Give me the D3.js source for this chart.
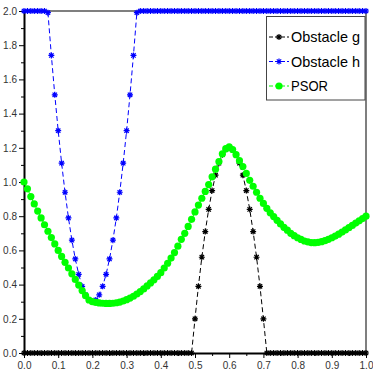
<!DOCTYPE html>
<html>
<head>
<meta charset="utf-8">
<script src="https://cdn.jsdelivr.net/npm/d3@7"></script>
<style>
  body { margin: 0; background: #fff; }
  svg { display: block; }
  .tick text { font-family: "Liberation Sans", Arial, sans-serif; font-size: 10px; fill: #333; }
</style>
</head>
<body>
<div id="chart"></div>
<script>
// mesh points, 0..1 step 0.01
const xs = d3.range(0, 101).map(i => i / 100);

const obstacleG = [
  0, 0, 0, 0, 0, 0, 0, 0, 0, 0,
  0, 0, 0, 0, 0, 0, 0, 0, 0, 0,
  0, 0, 0, 0, 0, 0, 0, 0, 0, 0,
  0, 0, 0, 0, 0, 0, 0, 0, 0, 0,
  0, 0, 0, 0, 0, 0, 0, 0, 0, 0,
  0.20, 0.39, 0.56, 0.71, 0.84, 0.95, 1.04, 1.11, 1.16, 1.19,
  1.20, 1.19, 1.16, 1.11, 1.04, 0.95, 0.84, 0.71, 0.56, 0.39,
  0.20,
  0, 0, 0, 0, 0, 0, 0, 0, 0, 0,
  0, 0, 0, 0, 0, 0, 0, 0, 0, 0,
  0, 0, 0, 0, 0, 0, 0, 0, 0, 0
];

const obstacleH = [
  2, 2, 2, 2, 2, 2, 2,
  1.99, 1.74, 1.51, 1.30, 1.11, 0.94, 0.79, 0.66, 0.55, 0.46, 0.39, 0.34, 0.31,
  0.30,
  0.31, 0.34, 0.39, 0.46, 0.55, 0.66, 0.79, 0.94, 1.11, 1.30, 1.51, 1.74, 1.99,
  2, 2, 2, 2, 2, 2, 2, 2, 2, 2,
  2, 2, 2, 2, 2, 2, 2, 2, 2, 2,
  2, 2, 2, 2, 2, 2, 2, 2, 2, 2,
  2, 2, 2, 2, 2, 2, 2, 2, 2, 2,
  2, 2, 2, 2, 2, 2, 2, 2, 2, 2,
  2, 2, 2, 2, 2, 2, 2, 2, 2, 2,
  2, 2, 2, 2, 2, 2, 2
];

const psor = [
  1.00, 0.96, 0.915, 0.872, 0.83, 0.79, 0.75, 0.712, 0.675, 0.638,
  0.60, 0.565, 0.53, 0.497, 0.463, 0.43, 0.397, 0.365, 0.335, 0.31,
  0.30, 0.296, 0.293, 0.291, 0.29, 0.29, 0.291, 0.294, 0.298, 0.304,
  0.312, 0.321, 0.332, 0.345, 0.359, 0.375, 0.392, 0.41, 0.428, 0.448,
  0.47, 0.497, 0.525, 0.555, 0.587, 0.625, 0.665, 0.70, 0.74, 0.782,
  0.825, 0.865, 0.905, 0.945, 0.985, 1.03, 1.075, 1.12, 1.165, 1.195,
  1.205, 1.19, 1.16, 1.125, 1.09, 1.05, 1.01, 0.975, 0.94, 0.905,
  0.875, 0.846, 0.82, 0.798, 0.776, 0.755, 0.735, 0.718, 0.70, 0.686,
  0.674, 0.664, 0.655, 0.65, 0.646, 0.645, 0.647, 0.651, 0.657, 0.665,
  0.674, 0.684, 0.695, 0.707, 0.72, 0.733, 0.746, 0.76, 0.773, 0.786,
  0.80
];

const xMajor = [0, 0.1, 0.2, 0.3, 0.4, 0.5, 0.6, 0.7, 0.8, 0.9, 1.0];
const xMinor = [0.05, 0.15, 0.25, 0.35, 0.45, 0.55, 0.65, 0.75, 0.85, 0.95];
const yMajor = [0, 0.2, 0.4, 0.6, 0.8, 1.0, 1.2, 1.4, 1.6, 1.8, 2.0];
const yMinor = [0.1, 0.3, 0.5, 0.7, 0.9, 1.1, 1.3, 1.5, 1.7, 1.9];

const series = [
  { name: 'Obstacle g', values: obstacleG, color: '#000000', mark: 'star' },
  { name: 'Obstacle h', values: obstacleH, color: '#0000ff', mark: 'star' },
  { name: 'PSOR', values: psor, color: '#00ff00', mark: 'dot' }
];

const width = 373, height = 373;
const margin = { top: 11, right: 7, bottom: 20, left: 24 };

const x = d3.scaleLinear().domain([0, 1]).range([margin.left, width - margin.right]);
const y = d3.scaleLinear().domain([0, 2]).range([height - margin.bottom, margin.top]);

const svg = d3.select('#chart')
  .append('svg')
  .attr('width', width)
  .attr('height', height);

// frame top / right
svg.append('path')
  .attr('fill', 'none')
  .attr('stroke', '#555')
  .attr('stroke-width', 1.5)
  .attr('d', `M${x(0)},${y(2)}H${x(1)}V${y(0)}`);

// minor ticks
svg.append('g')
  .attr('transform', `translate(0,${y(0)})`)
  .call(d3.axisBottom(x).tickValues(xMinor).tickSize(3).tickFormat('').tickSizeOuter(0))
  .call(g => g.select('.domain').remove());
svg.append('g')
  .attr('transform', `translate(${x(0)},0)`)
  .call(d3.axisLeft(y).tickValues(yMinor).tickSize(3).tickFormat('').tickSizeOuter(0))
  .call(g => g.select('.domain').remove());

// major axes
svg.append('g')
  .attr('transform', `translate(0,${y(0)})`)
  .call(d3.axisBottom(x).tickValues(xMajor).tickFormat(d3.format('.1f')).tickSize(5).tickSizeOuter(0).tickPadding(4))
  .call(g => g.select('.domain').attr('stroke-width', 2));
svg.append('g')
  .attr('transform', `translate(${x(0)},0)`)
  .call(d3.axisLeft(y).tickValues(yMajor).tickFormat(d3.format('.1f')).tickSize(5).tickSizeOuter(0).tickPadding(2))
  .call(g => g.select('.domain').attr('stroke-width', 2));

const star = 'M-3,0H3M0,-3V3M-2.2,-2.2L2.2,2.2M-2.2,2.2L2.2,-2.2';

const line = d3.line()
  .x((d, i) => x(xs[i]))
  .y(d => y(d));

const plot = svg.append('g');

series.forEach(s => {
  plot.append('path')
    .attr('fill', 'none')
    .attr('stroke', s.color)
    .attr('stroke-width', 1)
    .attr('stroke-dasharray', '5,3')
    .attr('d', line(s.values));

  if (s.mark === 'star') {
    plot.selectAll(null)
      .data(s.values)
      .enter()
      .append('path')
      .attr('d', star)
      .attr('stroke', s.color)
      .attr('stroke-width', 1.2)
      .attr('fill', 'none')
      .attr('transform', (d, i) => `translate(${x(xs[i])},${y(d)})`);
  } else {
    plot.selectAll(null)
      .data(s.values)
      .enter()
      .append('circle')
      .attr('r', 3.6)
      .attr('fill', s.color)
      .attr('cx', (d, i) => x(xs[i]))
      .attr('cy', d => y(d));
  }
});

// legend
const legend = svg.append('g');
legend.append('rect')
  .attr('x', 266.5).attr('y', 16.5)
  .attr('width', 98.5).attr('height', 83.5)
  .attr('fill', '#fff')
  .attr('stroke', '#444')
  .attr('stroke-width', 1);

const rowY = [37, 61.5, 86];
series.forEach((s, i) => {
  const row = legend.append('g').attr('transform', `translate(0,${rowY[i]})`);
  row.append('line')
    .attr('x1', 269).attr('x2', 289)
    .attr('stroke', s.color)
    .attr('stroke-dasharray', '4,2');
  if (s.mark === 'star') {
    row.append('path').attr('d', star).attr('stroke', s.color).attr('stroke-width', 1.2)
      .attr('transform', 'translate(279,0)');
  } else {
    row.append('circle').attr('cx', 279).attr('r', 3.6).attr('fill', s.color);
  }
  row.append('text')
    .attr('x', 291)
    .attr('dy', '0.36em')
    .attr('font-family', '"Liberation Sans", Arial, sans-serif')
    .attr('font-size', 15)
    .attr('fill', '#000')
    .attr('textLength', s.name === 'PSOR' ? 37 : 69)
    .attr('lengthAdjust', 'spacingAndGlyphs')
    .text(s.name);
});
</script>
</body>
</html>
